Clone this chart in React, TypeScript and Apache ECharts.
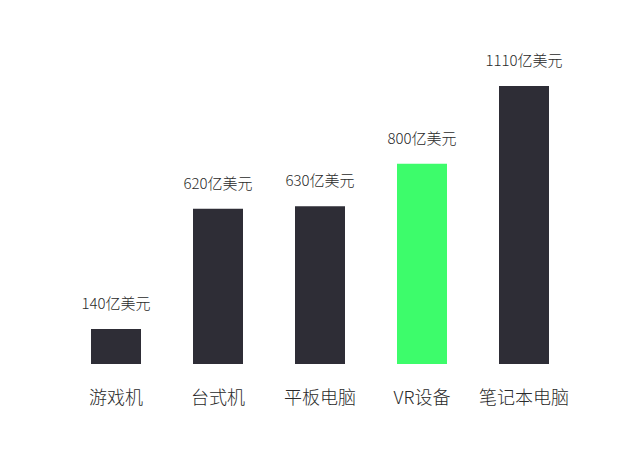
import React, { useEffect, useRef } from "react";
import * as echarts from "echarts";

const categories = ["游戏机", "台式机", "平板电脑", "VR设备", "笔记本电脑"];
const values = [140, 620, 630, 800, 1110];
const highlightIndex = 3;

export default function App() {
  const ref = useRef<HTMLDivElement>(null);
  useEffect(() => {
    if (!ref.current) return;
    const chart = echarts.init(ref.current, undefined, { renderer: "svg" });
    const font = "'Noto Sans CJK SC', 'Noto Sans', sans-serif";
    chart.setOption({
      animation: false,
      backgroundColor: "#ffffff",
      grid: { left: 65, right: 65, top: 86, bottom: 86 },
      xAxis: {
        type: "category",
        data: categories,
        axisLine: { show: false },
        axisTick: { show: false },
        axisLabel: {
          interval: 0,
          margin: 23,
          fontSize: 18,
          fontWeight: 300,
          color: "#2a2a2a",
          fontFamily: font,
        },
      },
      yAxis: {
        type: "value",
        min: 0,
        max: 1110,
        show: false,
        splitLine: { show: false },
      },
      series: [
        {
          type: "bar",
          barWidth: 50,
          data: values.map((v, i) => ({
            value: v,
            itemStyle: { color: i === highlightIndex ? "#3dfc6b" : "#2e2d36" },
          })),
          label: {
            show: true,
            position: "top",
            distance: 19,
            formatter: "{c}亿美元",
            fontSize: 15,
            fontWeight: 300,
            color: "#2a2a2a",
            fontFamily: font,
          },
        },
      ],
    });
    return () => chart.dispose();
  }, []);
  return <div ref={ref} style={{ width: 640, height: 450, margin: -8 }} />;
}
